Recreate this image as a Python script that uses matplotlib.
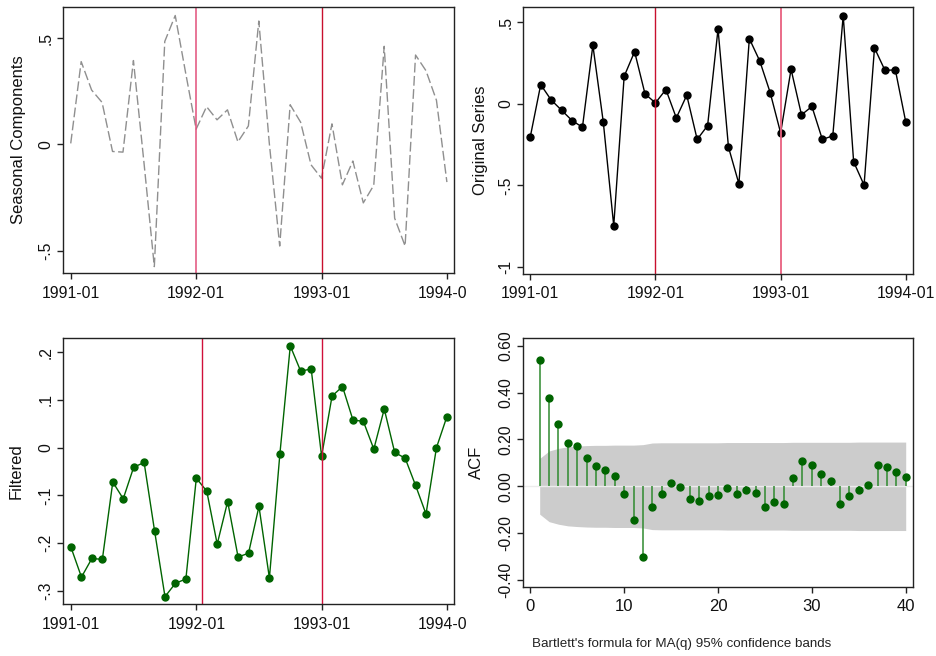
import numpy as np
import matplotlib
matplotlib.use("Agg")
import matplotlib.pyplot as plt
from matplotlib.transforms import Bbox, TransformedBbox

plt.rcParams['font.family'] = ['Liberation Sans', 'DejaVu Sans']

# monthly data, 1991-01 .. 1994-01
months = np.arange(37)
month_ticks = [0, 12, 24, 36]
month_labels = ['1991-01', '1992-01', '1993-01', '1994-01']

seasonal = [0.005, 0.39, 0.256, 0.198, -0.033, -0.036, 0.395, -0.081, -0.575,
            0.485, 0.607, 0.336, 0.072, 0.178, 0.116, 0.163, 0.012, 0.087,
            0.581, 0.008, -0.478, 0.187, 0.105, -0.096, -0.159, 0.097, -0.19,
            -0.078, -0.275, -0.192, 0.462, -0.347, -0.478, 0.421, 0.347, 0.208,
            -0.177]

original = [-0.202, 0.118, 0.024, -0.039, -0.102, -0.143, 0.359, -0.112, -0.747,
            0.169, 0.320, 0.061, 0.006, 0.088, -0.086, 0.053, -0.218, -0.133,
            0.459, -0.265, -0.490, 0.400, 0.263, 0.069, -0.178, 0.212, -0.067,
            -0.016, -0.218, -0.196, 0.541, -0.355, -0.498, 0.343, 0.206, 0.208,
            -0.112]

filtered = [-0.209, -0.271, -0.232, -0.234, -0.072, -0.107, -0.041, -0.031, -0.174,
            -0.312, -0.284, -0.275, -0.064, -0.091, -0.202, -0.113, -0.229, -0.221,
            -0.123, -0.273, -0.014, 0.213, 0.160, 0.165, -0.018, 0.108, 0.128,
            0.058, 0.055, -0.003, 0.081, -0.010, -0.022, -0.079, -0.139, 0.000,
            0.065]

lags = np.arange(1, 41)
acf = [0.540, 0.376, 0.266, 0.184, 0.171, 0.120, 0.086, 0.070, 0.046, -0.033,
       -0.144, -0.303, -0.087, -0.033, 0.013, -0.001, -0.054, -0.061, -0.041, -0.037,
       -0.006, -0.034, -0.017, -0.027, -0.087, -0.067, -0.076, 0.037, 0.106, 0.093,
       0.051, 0.021, -0.077, -0.043, -0.017, 0.004, 0.090, 0.083, 0.063, 0.039]
band = [0.119, 0.151, 0.162, 0.169, 0.172, 0.174, 0.175, 0.175, 0.176, 0.176,
        0.176, 0.178, 0.185, 0.186, 0.186, 0.186, 0.186, 0.186, 0.186, 0.186,
        0.187, 0.187, 0.187, 0.187, 0.187, 0.187, 0.187, 0.188, 0.188, 0.188,
        0.188, 0.188, 0.188, 0.188, 0.189, 0.189, 0.189, 0.189, 0.189, 0.189]

W, H = 937, 656
fig = plt.figure(figsize=(W / 100, H / 100), dpi=100)


def px_axes(l, r, t, b):
    return fig.add_axes([l / W, 1 - b / H, (r - l) / W, (b - t) / H])


def style(ax, yticks, ylabels, ylabel, label_x):
    for s in ax.spines.values():
        s.set_color('#222222')
        s.set_linewidth(1.0)
    ax.tick_params(axis='both', length=4, width=1, color='#222222',
                   labelsize=11.3, labelcolor='#111111')
    ax.tick_params(axis='x', pad=5)
    ax.tick_params(axis='y', pad=3)
    ax.set_yticks(yticks)
    ax.set_yticklabels(ylabels, rotation=90, va='center')
    ax.set_ylabel(ylabel, fontsize=12, color='#111111', va='center')
    ax.yaxis.set_label_coords(label_x, 0.5)


def time_axis(ax, x0, x1, clip=False):
    ax.set_xlim(x0, x1)
    ax.set_xticks(month_ticks)
    ax.set_xticklabels(month_labels)
    if clip:
        box = TransformedBbox(Bbox([[0, 0], [467 / W, 1]]), fig.transFigure)
        for lab in ax.get_xticklabels():
            lab.set_clip_box(box)
            lab.set_clip_on(True)


# seasonal components
ax1 = px_axes(63, 454, 7, 273)
ax1.plot(months, seasonal, color='#8f8f8f', lw=1.0, dashes=(7, 2.5))
ax1.axvline(12, color='#e2507a', lw=1.1)
ax1.axvline(24, color='#c8102e', lw=1.0)
ax1.set_ylim(-0.605, 0.647)
time_axis(ax1, -0.74, 36.68, clip=True)
style(ax1, [0.5, 0, -0.5], ['.5', '0', '-.5'], 'Seasonal Components', -0.113)

# original series
ax2 = px_axes(523.3, 913.3, 7, 274)
ax2.plot(months, original, color='black', lw=1.0, marker='o', ms=5)
ax2.axvline(12, color='#c8102e', lw=1.0)
ax2.axvline(24, color='#e8607f', lw=1.3)
ax2.set_ylim(-1.043, 0.594)
time_axis(ax2, -0.67, 36.72)
style(ax2, [0.5, 0, -0.5, -1], ['.5', '0', '-.5', '-1'], 'Original Series',
      (480 - 523.3) / 390)

# filtered series
ax3 = px_axes(63.3, 454, 338.3, 604.3)
ax3.plot(months, filtered, color='#006400', lw=1.0, marker='o', ms=5)
ax3.axvline(12.5, color='#d0103a', lw=1.0)
ax3.axvline(24, color='#d0103a', lw=1.0)
ax3.set_ylim(-0.328, 0.229)
time_axis(ax3, -0.74, 36.68, clip=True)
style(ax3, [0.2, 0.1, 0, -0.1, -0.2, -0.3],
      ['.2', '.1', '0', '-.1', '-.2', '-.3'], 'Filtered', (16 - 63.3) / 390.7)

# autocorrelations with Bartlett bands
ax4 = px_axes(522.7, 913.3, 337.7, 586.7)
band = np.array(band)
ax4.fill_between(lags, -band, band, color='#cccccc', lw=0, zorder=1)
ax4.axhline(0, color='#ececec', lw=1.0, zorder=2)
ax4.vlines(lags, 0, acf, color='#2f8a2f', lw=1.1, zorder=3)
ax4.plot(lags, acf, ls='none', marker='o', ms=5, color='#006400', zorder=4)
ax4.set_xlim(-0.81, 40.81)
ax4.set_ylim(-0.429, 0.635)
ax4.set_xticks([0, 10, 20, 30, 40])
style(ax4, [0.6, 0.4, 0.2, 0, -0.2, -0.4],
      ['0.60', '0.40', '0.20', '0.00', '-0.20', '-0.40'], 'ACF',
      (476 - 522.7) / 390.6)
ax4.tick_params(axis='x', labelsize=12)

fig.text(532 / W, 1 - 644 / H, "Bartlett's formula for MA(q) 95% confidence bands",
         fontsize=9.6, color='#222222', ha='left', va='center')

fig.savefig('out.png', dpi=100)
